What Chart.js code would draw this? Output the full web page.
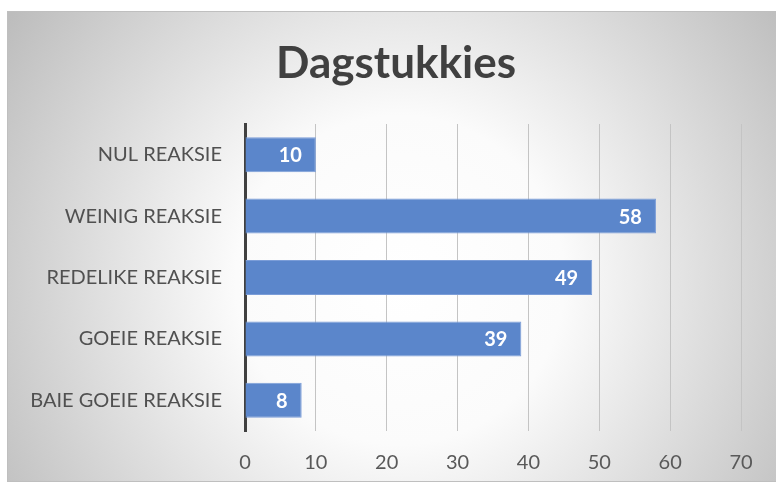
<!DOCTYPE html>
<html lang="af">
<head>
  <meta charset="UTF-8">
  <title>Dagstukkies</title>
  <style>
    html, body { margin: 0; padding: 0; background: #ffffff; }
    canvas { display: block; }
  </style>
</head>
<body>
  <canvas id="chart" width="776" height="485"></canvas>

  <script src="https://cdn.jsdelivr.net/npm/chart.js"></script>
  <script>
    // data
    const chartTitle = 'Dagstukkies';
    const categories = ['NUL REAKSIE', 'WEINIG REAKSIE', 'REDELIKE REAKSIE', 'GOEIE REAKSIE', 'BAIE GOEIE REAKSIE'];
    const values = [10, 58, 49, 39, 8];
    const axisMin = 0;
    const axisMax = 70;
    const axisStep = 10;

    const FONT = 'Lato, "Open Sans", sans-serif';

    // grey panel with radial shading behind everything, plus the title
    const panelBg = {
      id: 'panelBg',
      beforeDraw(chart) {
        const ctx = chart.ctx;
        const x0 = 7.5, y0 = 11.5, x1 = 780, y1 = 481.5;
        const g = ctx.createRadialGradient(400, 280, 0, 400, 280, 470);
        g.addColorStop(0, '#ffffff');
        g.addColorStop(0.35, '#fbfbfb');
        g.addColorStop(1, '#bdbdbd');
        ctx.save();
        ctx.fillStyle = g;
        ctx.fillRect(x0, y0, x1 - x0, y1 - y0);
        ctx.strokeStyle = '#bfbfbf';
        ctx.lineWidth = 1;
        ctx.strokeRect(x0, y0, x1 - x0, y1 - y0);
        // title, a bit right of the canvas centre like the original
        ctx.font = 'bold 44px ' + FONT;
        ctx.fillStyle = '#404040';
        ctx.textAlign = 'center';
        ctx.textBaseline = 'middle';
        ctx.fillText(chartTitle, 396, 64);
        ctx.restore();
      }
    };

    // value labels inside the end of each bar
    const barLabels = {
      id: 'barLabels',
      afterDatasetsDraw(chart) {
        const ctx = chart.ctx;
        const meta = chart.getDatasetMeta(0);
        ctx.save();
        ctx.font = 'bold 20px ' + FONT;
        ctx.fillStyle = '#ffffff';
        ctx.textAlign = 'right';
        ctx.textBaseline = 'middle';
        meta.data.forEach(function(bar, i) {
          ctx.fillText(String(values[i]), bar.x - 14, bar.y + 1);
        });
        ctx.restore();
      }
    };

    new Chart(document.getElementById('chart'), {
      type: 'bar',
      data: {
        labels: categories,
        datasets: [{
          data: values,
          backgroundColor: '#5b86cb',
          borderColor: '#7b9dd8',
          borderWidth: 1,
          categoryPercentage: 1,
          barPercentage: 0.57
        }]
      },
      options: {
        indexAxis: 'y',
        responsive: false,
        animation: false,
        layout: { padding: { left: 16, right: 35, top: 124, bottom: 0 } },
        plugins: {
          legend: { display: false },
          tooltip: { enabled: false },
          title: { display: false }
        },
        scales: {
          x: {
            min: axisMin,
            max: axisMax,
            ticks: {
              stepSize: axisStep,
              color: '#595959',
              font: { family: FONT, size: 20 },
              padding: 20
            },
            grid: { color: '#c4c4c4', lineWidth: 1, drawTicks: false },
            border: { display: false },
            afterFit: function(scale) { scale.height = 54; }
          },
          y: {
            ticks: {
              color: '#505050',
              font: { family: FONT, size: 20 },
              padding: 23
            },
            grid: { display: false, drawTicks: false },
            border: { display: true, color: '#404040', width: 3 },
            afterFit: function(scale) { scale.width = 229; }
          }
        }
      },
      plugins: [panelBg, barLabels]
    });
  </script>
</body>
</html>
